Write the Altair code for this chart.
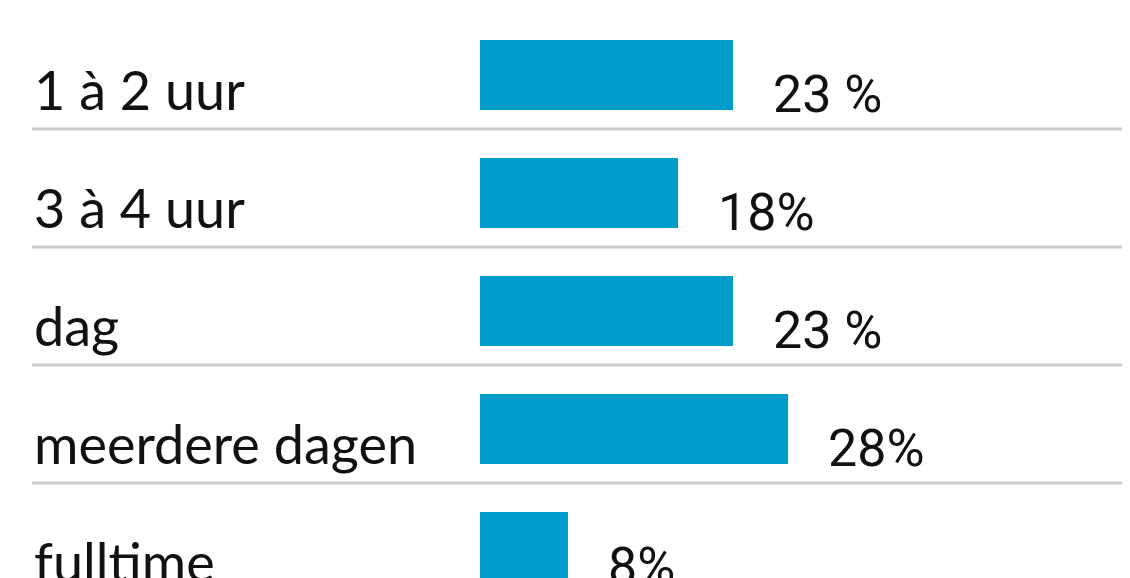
import altair as alt
import pandas as pd

categories = ["1 à 2 uur", "3 à 4 uur", "dag", "meerdere dagen", "fulltime"]
values = [23, 18, 23, 28, 8]
value_labels = ["23 %", "18%", "23 %", "28%", "8%"]

df = pd.DataFrame({"cat": categories, "value": values, "label": value_labels})

ROW = 118
N = len(categories)
W = 1090

yscale = alt.Scale(range=[0, ROW * N], paddingInner=0, paddingOuter=0)
y = alt.Y("cat:N", sort=categories, scale=yscale, axis=None)
x = alt.X(
    "value:Q",
    scale=alt.Scale(domain=[0, 60], range=[448, 448 + 11 * 60]),
    axis=None,
)

rules = alt.Chart(df).mark_rule(color="#cccccc", strokeWidth=3).encode(
    y=alt.Y("cat:N", sort=categories, scale=yscale, axis=None, bandPosition=1),
    x=alt.value(0),
    x2=alt.value(W),
)

bars = alt.Chart(df).mark_bar(color="#009dcc", height=70, yOffset=5).encode(x=x, y=y)

cat_text = alt.Chart(df).mark_text(
    align="left", baseline="alphabetic", dy=40, font="Lato", fontSize=54, color="#111111"
).encode(x=alt.value(2), y=y, text="cat:N")

val_text = alt.Chart(df).mark_text(
    align="left", baseline="alphabetic", dx=40, dy=42,
    font="Roboto", fontSize=52, color="#111111"
).encode(x=x, y=y, text="label:N")

chart = (
    alt.layer(rules, bars, cat_text, val_text)
    .properties(
        width=W,
        height=ROW * N,
        padding={"left": 24, "top": 3, "right": 0, "bottom": 0},
        autosize=alt.AutoSizeParams(type="none"),
    )
    .configure_view(stroke=None)
)

chart.save("out.html", embed_options={"renderer": "svg", "actions": False})
